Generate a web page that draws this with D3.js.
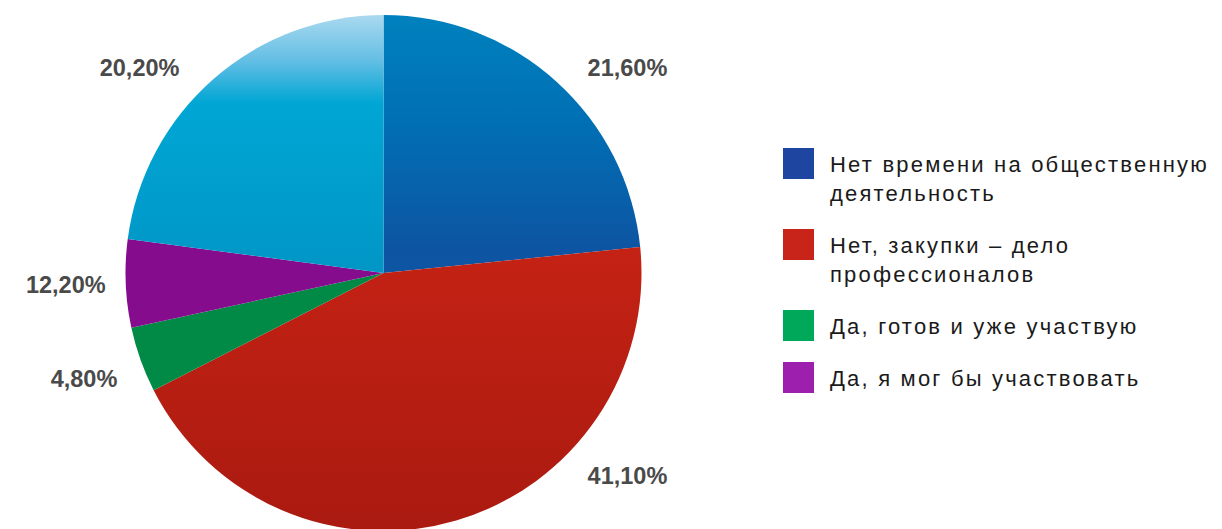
<!DOCTYPE html>
<html>
<head>
    <meta charset="utf-8">
    <title>Pie chart</title>
    <script src="https://d3js.org/d3.v7.min.js"></script>
    <style>
        body { margin: 0; background: #fff; }
        .pct { font-family: "Liberation Sans", Arial, sans-serif; font-weight: bold; font-size: 23.5px; fill: #4a4a4a; }
        .leg { font-family: "Liberation Sans", Arial, sans-serif; font-size: 22px; fill: #1a1a1a; letter-spacing: 2.2px; }
    </style>
</head>
<body>
<div id="chart"></div>
<script>
    // slice sizes, labels as printed on it
    var categories = ["Нет времени на общественную деятельность", "Нет, закупки – дело профессионалов", "Да, готов и уже участвую", "Да, я мог бы участвовать"];
    var legendLines = [["Нет времени на общественную", "деятельность"], ["Нет, закупки – дело", "профессионалов"], ["Да, готов и уже участвую"], ["Да, я мог бы участвовать"]];
    var sliceNames = ["blue", "red", "green", "purple", "light"];
    var sliceValues = [23.4, 44.1, 4.1, 5.5, 22.9];
    var pctLabels = ["21,60%", "41,10%", "4,80%", "12,20%", "20,20%"];

    var width = 1222, height = 529;
    var cx = 383.5, cy = 273, radius = 258;

    var svg = d3.select("#chart").append("svg")
        .attr("width", width)
        .attr("height", height);

    // vertical gradients for each slice (in the pie group's coordinates)
    var grads = {
        blue: [["0%", "#0081be"], ["20%", "#0070b4"], ["45%", "#0d55a3"], ["100%", "#1450a0"]],
        red: [["0%", "#c62615"], ["45%", "#c42214"], ["100%", "#aa1a10"]],
        green: [["0%", "#008a45"], ["100%", "#008a45"]],
        purple: [["0%", "#860c8e"], ["100%", "#860c8e"]],
        light: [["0%", "#aad9ef"], ["9%", "#62bee4"], ["17%", "#00a6d4"], ["50%", "#0096c6"], ["100%", "#0090c2"]]
    };
    var defs = svg.append("defs");
    Object.keys(grads).forEach(function (k) {
        var g = defs.append("linearGradient")
            .attr("id", "g-" + k)
            .attr("gradientUnits", "userSpaceOnUse")
            .attr("x1", 0).attr("x2", 0)
            .attr("y1", -radius).attr("y2", radius);
        grads[k].forEach(function (s) {
            g.append("stop").attr("offset", s[0]).attr("stop-color", s[1]);
        });
    });

    var pie = d3.pie().sort(null).value(function (d) { return d; });
    var arcs = pie(sliceValues);
    var arc = d3.arc().innerRadius(0).outerRadius(radius);

    var g = svg.append("g").attr("transform", "translate(" + cx + "," + cy + ")");

    g.selectAll("path")
        .data(arcs)
        .enter().append("path")
        .attr("d", arc)
        .attr("fill", function (d, i) { return "url(#g-" + sliceNames[i] + ")"; });

    // percentage labels on a ring outside the pie, kept inside the picture vertically
    var labelR = 318, maxDy = 204;
    g.selectAll(".pct")
        .data(arcs)
        .enter().append("text")
        .attr("class", "pct")
        .attr("text-anchor", "middle")
        .attr("dominant-baseline", "central")
        .attr("transform", function (d) {
            var a = (d.startAngle + d.endAngle) / 2;
            var dx = Math.sin(a) * labelR, dy = -Math.cos(a) * labelR;
            if (Math.abs(dy) > maxDy) {
                dy = Math.sign(dy) * maxDy;
                dx = Math.sign(dx) * Math.sqrt(labelR * labelR - dy * dy);
            }
            return "translate(" + dx + "," + (dy - 1) + ")";
        })
        .text(function (d, i) { return pctLabels[i]; });

    // legend
    var legendColors = ["#1e46a0", "#c8241a", "#00a85a", "#9c1fae"];
    var legendY = [148, 229, 310, 362];
    var legend = svg.append("g").attr("transform", "translate(783,0)");
    var items = legend.selectAll("g")
        .data(categories)
        .enter().append("g")
        .attr("transform", function (d, i) { return "translate(0," + legendY[i] + ")"; });
    items.append("rect")
        .attr("width", 31).attr("height", 31)
        .attr("fill", function (d, i) { return legendColors[i]; });
    items.each(function (d, i) {
        var t = d3.select(this).append("text").attr("class", "leg");
        legendLines[i].forEach(function (line, j) {
            t.append("tspan").attr("x", 47).attr("y", 24 + j * 29).text(line);
        });
    });
</script>
</body>
</html>
